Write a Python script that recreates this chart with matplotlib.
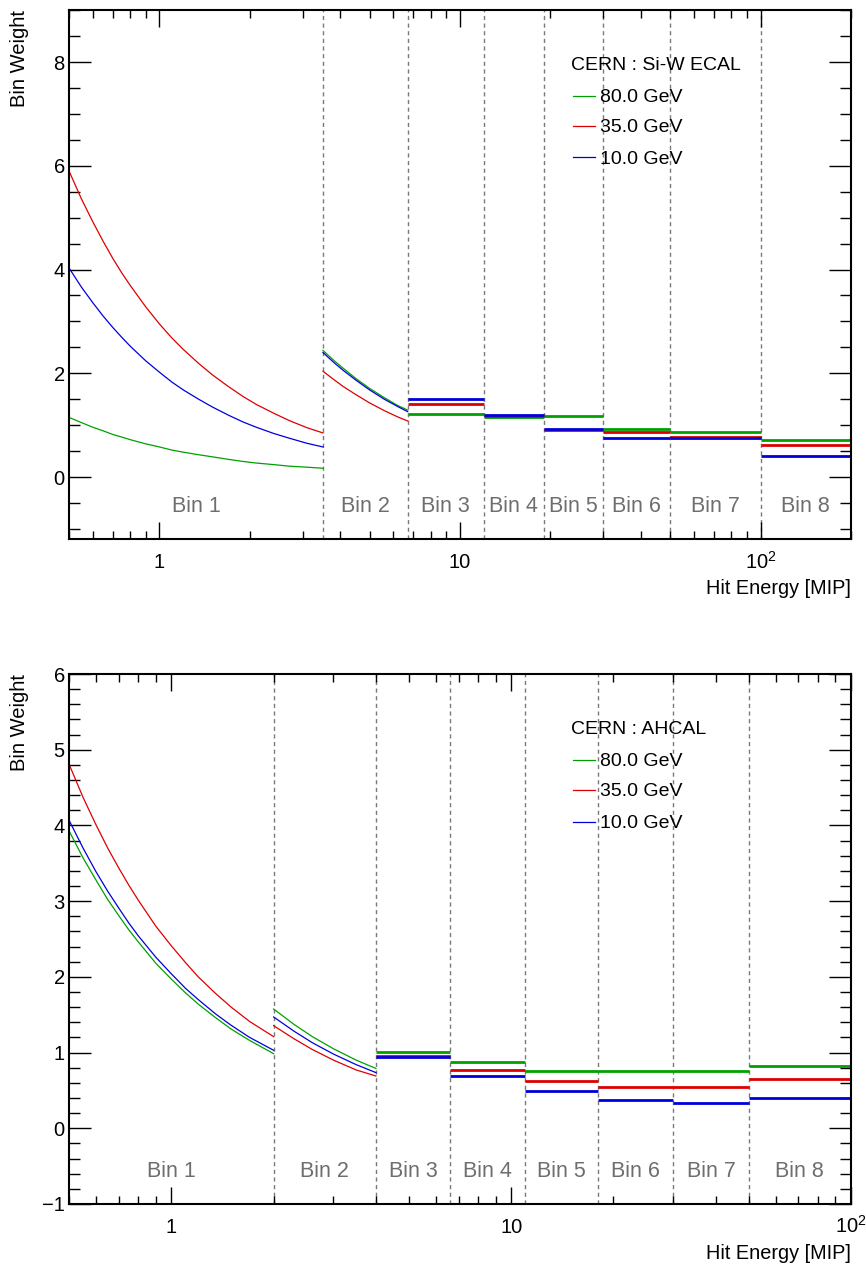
import numpy as np
import matplotlib
matplotlib.use('Agg')
from matplotlib import pyplot as plt
from matplotlib import transforms
from matplotlib.ticker import LogLocator, MultipleLocator, FuncFormatter, NullFormatter

plt.rcParams['font.family'] = ['Liberation Sans', 'DejaVu Sans']
plt.rcParams['mathtext.fontset'] = 'custom'
plt.rcParams['mathtext.rm'] = 'Liberation Sans'
plt.rcParams['mathtext.it'] = 'Liberation Sans:italic'

labels = ['80.0 GeV', '35.0 GeV', '10.0 GeV']
colours = ['#00a000', '#dd0000', '#0000dd']

# ---- Si-W ECAL ----
ecal_edges = [0.5, 3.5, 6.7, 12, 19, 30, 50, 100, 200]
ecal_x1 = [0.5, 0.55, 0.6, 0.65, 0.7, 0.75, 0.8, 0.9, 1.0, 1.1,
           1.2, 1.35, 1.5, 1.7, 1.9, 2.1, 2.4, 2.7, 3.1, 3.5]
ecal_80_bin1 = [1.15, 1.05, 0.96, 0.89, 0.82, 0.77, 0.72, 0.64, 0.58, 0.52,
                0.48, 0.43, 0.39, 0.34, 0.30, 0.27, 0.24, 0.21, 0.19, 0.17]
ecal_35_bin1 = [5.90, 5.36, 4.92, 4.54, 4.21, 3.93, 3.69, 3.28, 2.95, 2.68,
                2.46, 2.19, 1.97, 1.74, 1.55, 1.40, 1.23, 1.09, 0.95, 0.85]
ecal_10_bin1 = [4.03, 3.66, 3.36, 3.10, 2.88, 2.69, 2.52, 2.24, 2.02, 1.83,
                1.68, 1.50, 1.35, 1.19, 1.06, 0.96, 0.84, 0.75, 0.65, 0.58]
ecal_x2 = [3.5, 3.8, 4.1, 4.5, 5.0, 5.6, 6.2, 6.7]
ecal_80_bin2 = [2.44, 2.25, 2.09, 1.90, 1.71, 1.53, 1.38, 1.29]
ecal_35_bin2 = [2.04, 1.88, 1.74, 1.59, 1.43, 1.28, 1.16, 1.08]
ecal_10_bin2 = [2.40, 2.21, 2.05, 1.87, 1.68, 1.50, 1.36, 1.26]
# bins 3..8 are constant weights
ecal_80_flat = [1.22, 1.155, 1.17, 0.935, 0.87, 0.705]
ecal_35_flat = [1.40, 1.18, 0.915, 0.86, 0.775, 0.61]
ecal_10_flat = [1.51, 1.20, 0.93, 0.75, 0.745, 0.41]

# ---- AHCAL ----
ahcal_edges = [0.5, 2.0, 4.0, 6.6, 11, 18, 30, 50, 100]
ahcal_x1 = [0.5, 0.55, 0.6, 0.65, 0.7, 0.75, 0.8, 0.9, 1.0, 1.1,
            1.2, 1.35, 1.5, 1.7, 2.0]
ahcal_80_bin1 = [3.93, 3.57, 3.28, 3.02, 2.81, 2.62, 2.46, 2.18, 1.97, 1.79,
                 1.64, 1.46, 1.31, 1.16, 0.985]
ahcal_35_bin1 = [4.81, 4.37, 4.01, 3.70, 3.44, 3.21, 3.01, 2.67, 2.41, 2.19,
                 2.00, 1.78, 1.60, 1.41, 1.21]
ahcal_10_bin1 = [4.07, 3.70, 3.39, 3.13, 2.91, 2.71, 2.54, 2.26, 2.04, 1.85,
                 1.70, 1.51, 1.36, 1.20, 1.03]
ahcal_x2 = [2.0, 2.3, 2.6, 3.0, 3.5, 4.0]
ahcal_80_bin2 = [1.575, 1.37, 1.21, 1.05, 0.90, 0.79]
ahcal_35_bin2 = [1.355, 1.18, 1.04, 0.90, 0.77, 0.69]
ahcal_10_bin2 = [1.47, 1.28, 1.13, 0.98, 0.84, 0.735]
ahcal_80_flat = [1.01, 0.87, 0.757, 0.76, 0.76, 0.82]
ahcal_35_flat = [0.96, 0.765, 0.625, 0.55, 0.55, 0.645]
ahcal_10_flat = [0.94, 0.69, 0.49, 0.375, 0.34, 0.395]


def log_label(v, pos):
    if v < 50:
        return '%g' % v
    return r'$10^{%d}$' % round(np.log10(v))


def draw_panel(ax, edges, x1, bin1, x2, bin2, flat, ylim, ymajor, yminor, title):
    for edge in edges[1:-1]:
        ax.axvline(edge, color='#7a7a7a', lw=1, ls=(0, (3, 2.5)), zorder=1)

    for i in range(3):
        ax.plot(x1, bin1[i], color=colours[i], lw=0.9)
        ax.plot(x2, bin2[i], color=colours[i], lw=0.9)
        ax.hlines(flat[i], edges[2:-1], edges[3:], color=colours[i], lw=2)

    # bin names, centred in log space
    trans = transforms.blended_transform_factory(ax.transData, ax.transAxes)
    for k in range(len(edges) - 1):
        centre = np.sqrt(edges[k] * edges[k + 1])
        ax.text(centre, 0.051, 'Bin %d' % (k + 1), transform=trans, ha='center',
                va='baseline', fontsize=15.5, color='#6e6e6e')

    # legend
    ax.text(0.642, 0.8866, title, transform=ax.transAxes, fontsize=14, va='baseline')
    line_y = [0.8386, 0.7808, 0.7217]
    for i in range(3):
        ax.plot([0.6445, 0.6726], [line_y[i], line_y[i]], transform=ax.transAxes,
                color=colours[i], lw=0.9)
        ax.text(0.679, line_y[i] - 0.0118, labels[i], transform=ax.transAxes,
                fontsize=14, va='baseline')

    ax.set_xscale('log')
    ax.set_xlim(edges[0], edges[-1])
    ax.set_ylim(*ylim)
    ax.xaxis.set_major_locator(LogLocator(base=10))
    ax.xaxis.set_minor_locator(LogLocator(base=10, subs=np.arange(2, 10)))
    ax.xaxis.set_major_formatter(FuncFormatter(log_label))
    ax.xaxis.set_minor_formatter(NullFormatter())
    ax.yaxis.set_major_locator(MultipleLocator(ymajor))
    ax.yaxis.set_minor_locator(MultipleLocator(yminor))

    ax.tick_params(which='both', direction='in', top=True, right=True, width=1,
                   labelsize=14.5)
    ax.tick_params(axis='x', which='major', length=12, pad=21)
    ax.tick_params(axis='x', which='minor', length=5.5)
    ax.tick_params(axis='y', which='major', length=15.6, pad=3)
    ax.tick_params(axis='y', which='minor', length=8)
    plt.setp(ax.get_xticklabels(), va='baseline')

    for sp in ax.spines.values():
        sp.set_linewidth(1.5)

    ax.set_xlabel('Hit Energy [MIP]', fontsize=14.3, loc='right', va='center')
    ax.xaxis.set_label_coords(1.0, -0.0926)
    ax.set_ylabel('Bin Weight', fontsize=14.5, loc='top', va='center')
    ax.yaxis.set_label_coords(-0.0637, 1.0)


fig = plt.figure(figsize=(8.66, 12.66), dpi=100)
ax1 = fig.add_axes([0.0797, 0.574, 0.903, 0.418])
ax2 = fig.add_axes([0.0797, 0.049, 0.903, 0.4186])

draw_panel(ax1, ecal_edges, ecal_x1,
           [ecal_80_bin1, ecal_35_bin1, ecal_10_bin1], ecal_x2,
           [ecal_80_bin2, ecal_35_bin2, ecal_10_bin2],
           [ecal_80_flat, ecal_35_flat, ecal_10_flat],
           (-1.2, 9), 2, 0.5, 'CERN : Si-W ECAL')

draw_panel(ax2, ahcal_edges, ahcal_x1,
           [ahcal_80_bin1, ahcal_35_bin1, ahcal_10_bin1], ahcal_x2,
           [ahcal_80_bin2, ahcal_35_bin2, ahcal_10_bin2],
           [ahcal_80_flat, ahcal_35_flat, ahcal_10_flat],
           (-1, 6), 1, 0.2, 'CERN : AHCAL')

fig.savefig('out.png', dpi=100)
